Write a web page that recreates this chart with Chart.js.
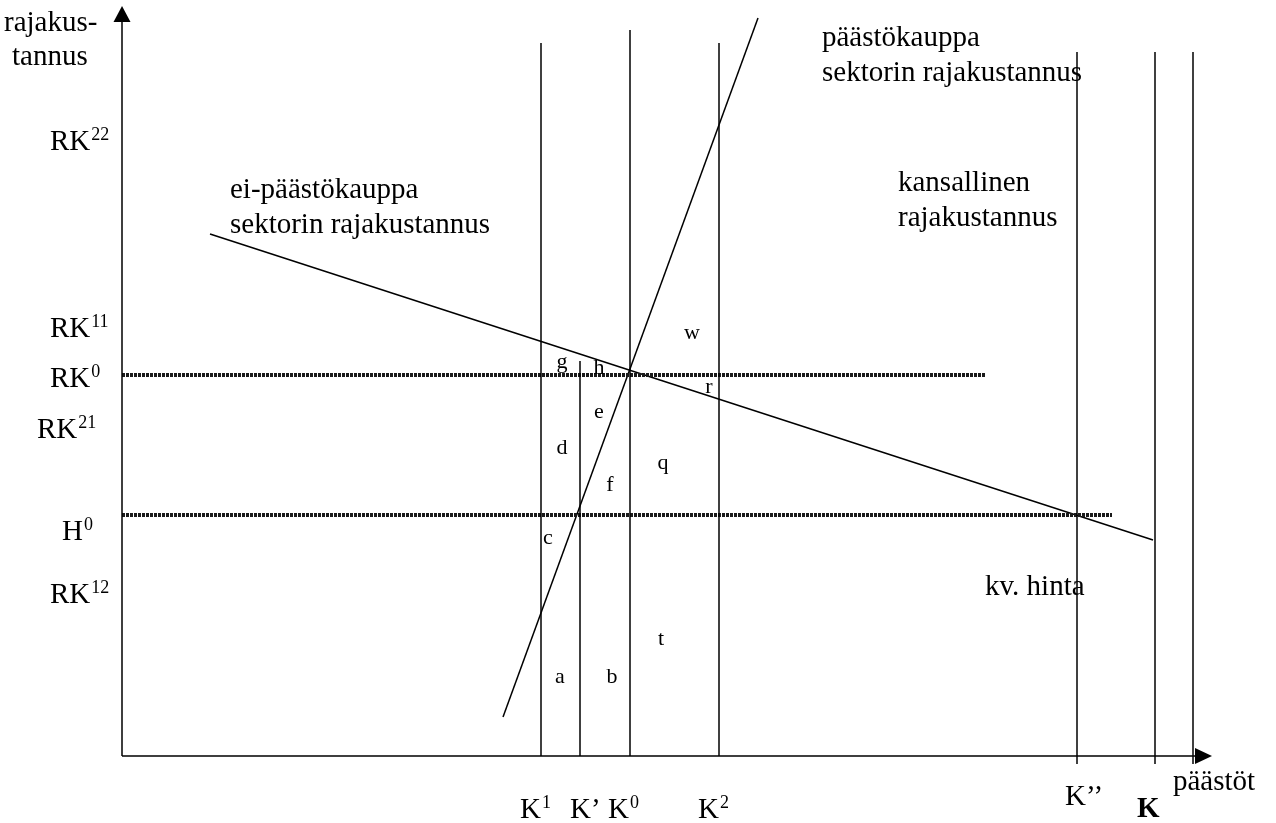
<!DOCTYPE html>
<html>
<head>
<meta charset="utf-8">
<script src="https://cdn.jsdelivr.net/npm/chart.js@4/dist/chart.umd.min.js"></script>
<style>
  html, body { margin: 0; background: #fff; }
  canvas { display: block; }
</style>
</head>
<body>
<canvas id="diagram" width="1276" height="823"></canvas>
<script>
// emission quotas (x axis) - vertical lines
const quotaNames = [["K", "1"], ["K’", ""], ["K", "0"], ["K", "2"], ["K’’", ""], ["K", ""], ["", ""]];
const quotaValues = [419, 458, 508, 597, 955, 1033, 1071];
const quotaTops = [713, 395, 726, 713, 704, 704, 704];
const quotaBottoms = [0, 0, 0, 0, -8, -8, -8];

// marginal cost levels (y axis)
const costNames = [["RK", "22"], ["RK", "11"], ["RK", "0"], ["RK", "21"], ["H", "0"], ["RK", "12"]];
const costValues = [616, 429, 379, 328, 226, 163];

// horizontal price lines: RK0 and H0
const priceLevels = [381, 241];
const priceEnds = [863, 990];

// marginal cost curves
const tradingX = [381, 636];
const tradingY = [39, 738];
const nonTradingX = [88, 1031];
const nonTradingY = [522, 216];

// area letters
const areaLetters = ["g", "h", "w", "r", "e", "d", "q", "f", "c", "t", "a", "b"];
const areaX = [440, 477, 570, 587, 477, 440, 541, 488, 426, 539, 438, 490];
const areaY = [394, 388, 423, 369, 344, 308, 293, 271, 218, 117, 79, 79];

const serif = "'Liberation Serif', 'Times New Roman', serif";

function seg(xs, ys, opts) {
  return Object.assign({
    data: xs.map((x, i) => ({ x: x, y: ys[i] })),
    showLine: true,
    pointRadius: 0,
    borderColor: "#000",
    borderWidth: 1.5,
    clip: false
  }, opts || {});
}

const datasets = [];
quotaValues.forEach((q, i) => {
  datasets.push(seg([q, q], [quotaBottoms[i], quotaTops[i]]));
});
priceLevels.forEach((p, i) => {
  datasets.push(seg([0, priceEnds[i]], [p, p], {
    borderWidth: 4, borderColor: "#1a1a1a", borderDash: [3, 1]
  }));
});
datasets.push(seg(tradingX, tradingY));
datasets.push(seg(nonTradingX, nonTradingY));

function supText(ctx, base, sup, x, y, size, bold) {
  ctx.font = (bold ? "bold " : "") + size + "px " + serif;
  ctx.textAlign = "left";
  ctx.textBaseline = "alphabetic";
  ctx.fillText(base, x, y);
  const w = ctx.measureText(base).width;
  if (sup) {
    ctx.font = Math.round(size * 0.62) + "px " + serif;
    ctx.fillText(sup, x + w + 1, y - size * 0.36);
  }
}

const drawing = {
  id: "drawing",
  afterDatasetsDraw(chart) {
    const { ctx, scales: { x, y } } = chart;
    const px = v => x.getPixelForValue(v);
    const py = v => y.getPixelForValue(v);
    ctx.save();
    ctx.fillStyle = "#000";
    ctx.strokeStyle = "#000";
    ctx.lineWidth = 1.5;
    const ox = px(0), oy = py(0);

    // axes with arrow heads
    ctx.beginPath();
    ctx.moveTo(ox, oy);
    ctx.lineTo(ox, py(734));
    ctx.moveTo(ox, oy);
    ctx.lineTo(px(1073), oy);
    ctx.stroke();
    ctx.beginPath();
    ctx.moveTo(ox, py(750));
    ctx.lineTo(ox - 8.5, py(734));
    ctx.lineTo(ox + 8.5, py(734));
    ctx.closePath();
    ctx.fill();
    ctx.beginPath();
    ctx.moveTo(px(1090), oy);
    ctx.lineTo(px(1073), oy - 8);
    ctx.lineTo(px(1073), oy + 8);
    ctx.closePath();
    ctx.fill();

    // y tick labels
    const yLeft = [50, 50, 50, 37, 62, 50];
    costNames.forEach((n, i) => {
      supText(ctx, n[0], n[1], yLeft[i], py(costValues[i]) + 10, 29);
    });

    // x tick labels
    const xLeft = [520, 570, 608, 698, 1065, 1137];
    const xBase = [818, 818, 818, 818, 805, 817];
    quotaNames.forEach((n, i) => {
      if (!n[0]) return;
      supText(ctx, n[0], n[1], xLeft[i], xBase[i], 29, n[0] === "K" && !n[1]);
    });

    // curve titles and axis titles
    ctx.font = "29px " + serif;
    ctx.textBaseline = "middle";
    ctx.textAlign = "left";
    const notes = [
      ["rajakus-", -118, 733], ["tannus", -110, 699],
      ["päästökauppa", 700, 718], ["sektorin rajakustannus", 700, 683],
      ["ei-päästökauppa", 108, 566], ["sektorin rajakustannus", 108, 531],
      ["kansallinen", 776, 573], ["rajakustannus", 776, 538],
      ["kv. hinta", 863, 169], ["päästöt", 1051, -26]
    ];
    notes.forEach(n => ctx.fillText(n[0], px(n[1]), py(n[2])));

    // area letters
    ctx.font = "22px " + serif;
    ctx.textAlign = "center";
    areaLetters.forEach((l, i) => ctx.fillText(l, px(areaX[i]), py(areaY[i])));
    ctx.restore();
  }
};

new Chart(document.getElementById("diagram"), {
  type: "scatter",
  data: { datasets: datasets },
  options: {
    responsive: false,
    animation: false,
    layout: { padding: { left: 122, right: 64, top: 6, bottom: 67 } },
    plugins: { legend: { display: false }, tooltip: { enabled: false } },
    scales: {
      x: { type: "linear", min: 0, max: 1090, display: false },
      y: { type: "linear", min: 0, max: 750, display: false }
    }
  },
  plugins: [drawing]
});
</script>
</body>
</html>
